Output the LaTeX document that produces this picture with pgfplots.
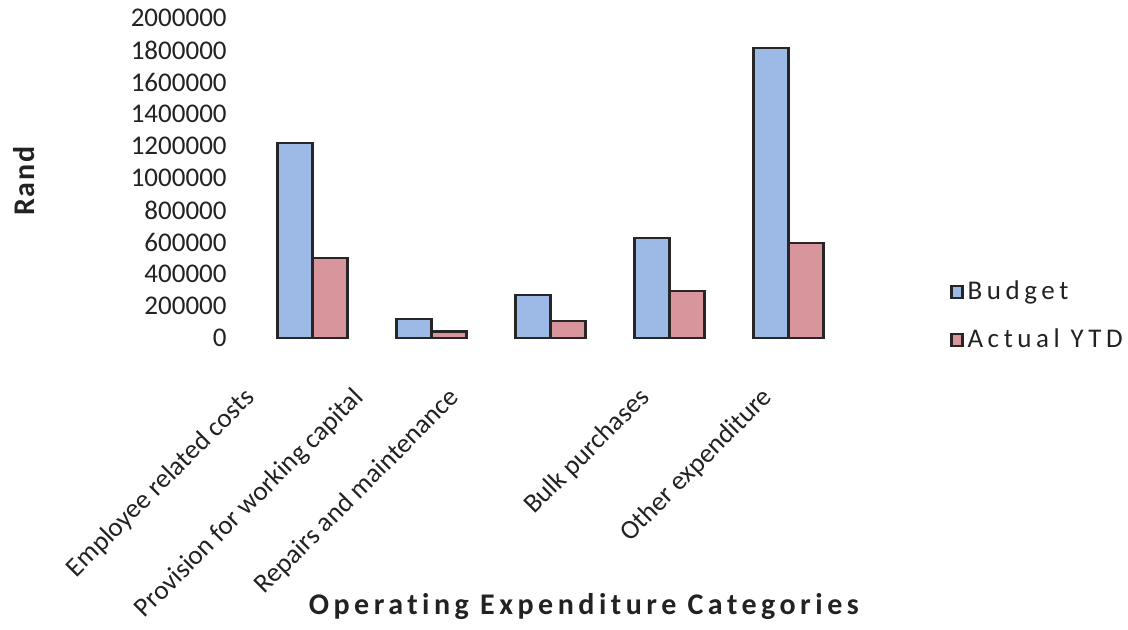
\documentclass[border=0pt]{standalone}
\usepackage{fontspec}
\setmainfont[Ligatures=NoCommon]{Carlito}
\usepackage{pgfplots}
\pgfplotsset{compat=1.18}
\definecolor{bud}{HTML}{9DB9E6}
\definecolor{act}{HTML}{D8959B}
\definecolor{txt}{HTML}{222222}
\pgfplotstableread{
x budget actual
0 1220000 500000
1 120000 40000
2 270000 105000
3 625000 295000
4 1812000 594000
}\datatab
\begin{document}
\begin{tikzpicture}
\useasboundingbox (0,0) rectangle (564pt,315pt);
\begin{axis}[
  at={(126.5pt,146pt)}, anchor=south west,
  scale only axis, width=297.5pt, height=160pt,
  xmin=-0.5, xmax=4.5, ymin=0, ymax=2000000,
  clip=false,
  ybar=0pt, bar width=17.5pt,
  axis line style={draw=none}, major tick length=0pt,
  xtick={0,...,4}, xticklabels={},
  ytick={0,200000,...,2000000},
  scaled y ticks=false,
  /pgf/number format/fixed,
  /pgf/number format/1000 sep={},
  /pgf/number format/assume math mode=true,
  yticklabel style={font=\fontsize{13.5}{14}\selectfont, text=txt, inner sep=0pt, xshift=-13pt},
  ylabel={Rand},
  ylabel style={at={(axis description cs:-0.385,0.49)}, anchor=center, rotate=0, font=\bfseries\fontsize{15}{16}\selectfont\addfontfeatures{LetterSpace=6}, text=txt},
  xlabel={Operating Expenditure Categories},
  xlabel style={at={(axis description cs:0.556,-0.84)}, anchor=center, font=\bfseries\fontsize{15}{16}\selectfont\addfontfeatures{LetterSpace=15}, text=txt},
  legend style={at={(axis description cs:1.171,0.069)}, anchor=west, draw=none, fill=none,
    font=\fontsize{13.5}{14}\selectfont\addfontfeatures{LetterSpace=17}, text=txt,
    row sep=9pt, inner sep=0pt},
  legend cell align=left,
  legend image code/.code={\draw[#1, line width=1.2pt] (0pt,-3pt) rectangle (5.5pt,3pt);},
]
\addplot[fill=bud, draw=black!85, line width=1.2pt] table[x=x, y=budget] {\datatab};
\addplot[fill=act, draw=black!85, line width=1.2pt] table[x=x, y=actual] {\datatab};
\legend{Budget, Actual YTD}
\node[xshift=-26pt, yshift=-28pt, rotate=45, anchor=base east, font=\fontsize{13.5}{14}\selectfont, text=txt] at (axis cs:0,0) {Employee related costs};
\node[xshift=-31pt, yshift=-28pt, rotate=45, anchor=base east, font=\fontsize{13.5}{14}\selectfont, text=txt] at (axis cs:1,0) {Provision for working capital};
\node[xshift=-42.5pt, yshift=-28pt, rotate=45, anchor=base east, font=\fontsize{13.5}{14}\selectfont, text=txt] at (axis cs:2,0) {Repairs and maintenance};
\node[xshift=-7pt, yshift=-28pt, rotate=45, anchor=base east, font=\fontsize{13.5}{14}\selectfont, text=txt] at (axis cs:3,0) {Bulk purchases};
\node[xshift=-5pt, yshift=-28pt, rotate=45, anchor=base east, font=\fontsize{13.5}{14}\selectfont, text=txt] at (axis cs:4,0) {Other expenditure};
\end{axis}
\end{tikzpicture}
\end{document}
